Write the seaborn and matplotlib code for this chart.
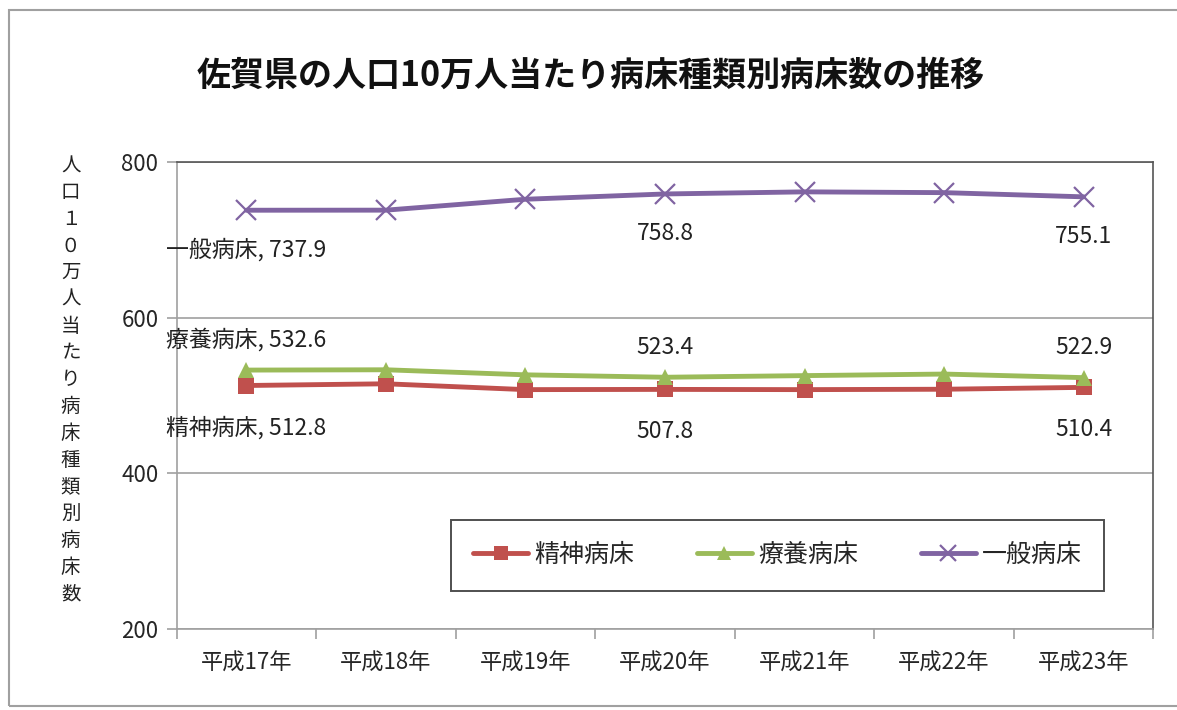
import matplotlib
matplotlib.use("Agg")
import matplotlib.pyplot as plt
import pandas as pd
import seaborn as sns
from matplotlib.patches import Rectangle

years = ["平成17年", "平成18年", "平成19年", "平成20年", "平成21年", "平成22年", "平成23年"]
seishin = [512.8, 515.0, 507.5, 507.8, 507.5, 508.0, 510.4]
ryoyo = [532.6, 533.0, 526.5, 523.4, 525.5, 527.5, 522.9]
ippan = [737.9, 738.0, 752.0, 758.8, 761.5, 760.5, 755.1]
series_names = ["精神病床", "療養病床", "一般病床"]
labelled_idx = [0, 3, 6]

title = "佐賀県の人口10万人当たり病床種類別病床数の推移"
ylabel = "人口１０万人当たり病床種類別病床数"

sns.set_theme(style="white")
plt.rcParams["font.family"] = ["Noto Sans CJK JP", "DejaVu Sans"]

df = pd.DataFrame({"year": years * 3,
                   "value": seishin + ryoyo + ippan,
                   "kind": [n for n in series_names for _ in years]})

colors = {"精神病床": "#C0504D", "療養病床": "#9BBB59", "一般病床": "#8064A2"}
markers = {"精神病床": "s", "療養病床": "^", "一般病床": "x"}

fig = plt.figure(figsize=(11.77, 7.10), dpi=100)
ax = fig.add_axes([0.150, 0.114, 0.830, 0.658])

for name in series_names:
    sub = df[df["kind"] == name]
    sns.lineplot(data=sub, x="year", y="value", ax=ax, color=colors[name],
                 marker=markers[name], markersize=12 if name != "一般病床" else 14,
                 markeredgewidth=0 if name != "一般病床" else 1.6,
                 markeredgecolor=colors[name], linewidth=3.5, label=name,
                 sort=False)

ax.set_xlim(-0.5, 6.5)
ax.set_ylim(200, 800)
ax.set_yticks([200, 400, 600, 800])
ax.yaxis.grid(True, color="#A0A0A0", linewidth=1.2)
ax.set_axisbelow(True)
ax.set_xticks([i - 0.5 for i in range(8)], minor=False)
ax.set_xticklabels([])
ax.set_xticks(range(7), minor=True)
ax.set_xticklabels(years, minor=True, fontsize=16)
ax.tick_params(axis="x", which="major", length=7, width=1.2, color="#A0A0A0", bottom=True)
ax.tick_params(axis="x", which="minor", length=0, pad=16)
ax.tick_params(axis="y", length=7, width=1.2, color="#A0A0A0", left=True, labelsize=16, pad=6)
ax.set_xlabel("")
ax.set_ylabel("")
for s in ["left", "bottom"]:
    ax.spines[s].set_color("#A0A0A0")
    ax.spines[s].set_linewidth(1.2)
for s in ["top", "right"]:
    ax.spines[s].set_color("#555555")
    ax.spines[s].set_linewidth(1.2)

# data labels
offsets = {"精神病床": -42, "療養病床": 30, "一般病床": -40}
vals = {"精神病床": seishin, "療養病床": ryoyo, "一般病床": ippan}
for name in series_names:
    for i in labelled_idx:
        txt = f"{name}, {vals[name][i]}" if i == 0 else f"{vals[name][i]}"
        ax.annotate(txt, (i, vals[name][i]), xytext=(0, offsets[name] * 0.72),
                    textcoords="offset points", ha="center", va="center",
                    fontsize=16.5, color="#222222")

leg = ax.legend(loc="center", bbox_to_anchor=(0.6606, 0.218), bbox_transform=fig.transFigure,
                ncol=3, frameon=True, fancybox=False, fontsize=18,
                handlelength=2.2, columnspacing=2.5, borderpad=0.9, handletextpad=0.25,
                borderaxespad=0, markerscale=0.85)
leg.get_frame().set_edgecolor("#222222")
leg.get_frame().set_linewidth(1.4)

fig.text(0.502, 0.894, title, ha="center", va="center", fontsize=24.5, fontweight="bold", color="#111111")
fig.text(0.060, 0.465, "\n".join(ylabel), ha="center", va="center", fontsize=14,
         linespacing=1.36, color="#222222")

fig.patches.append(Rectangle((0.008, 0.005), 0.995, 0.981, transform=fig.transFigure,
                             fill=False, edgecolor="#A0A0A0", linewidth=1.5))

fig.savefig("out.png", dpi=100)
